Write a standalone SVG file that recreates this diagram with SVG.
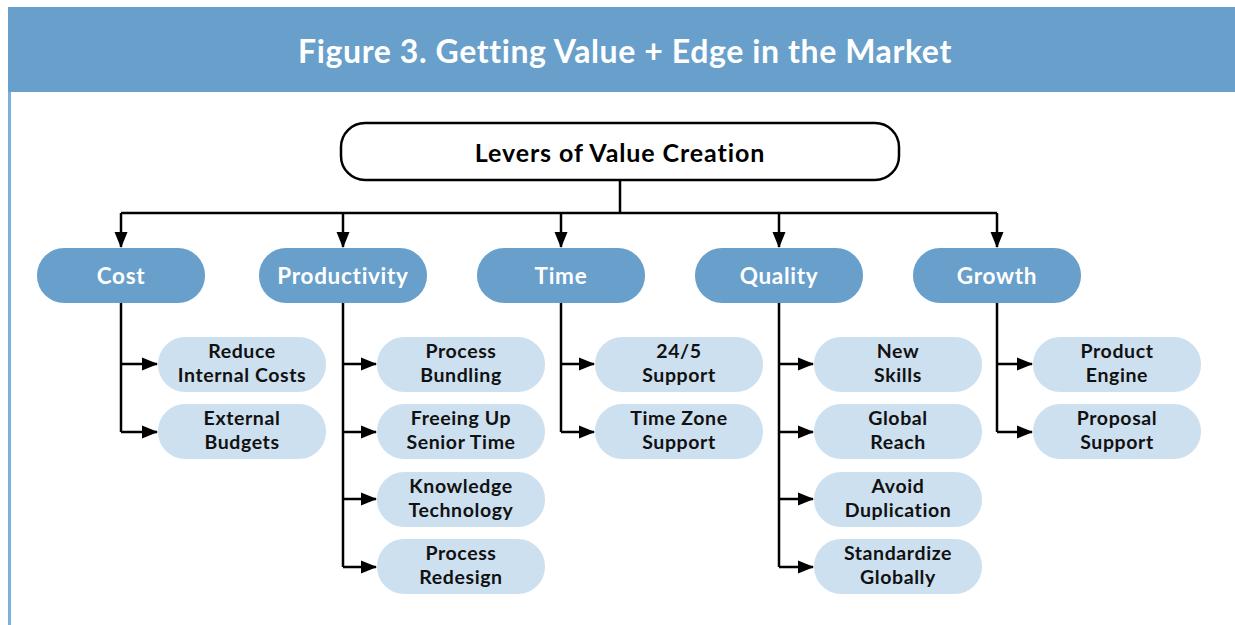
<svg xmlns="http://www.w3.org/2000/svg" width="1235" height="625" viewBox="0 0 1235 625">
<defs>
<style>
.hdr{fill:#68a0cb}
.title{font-family:Lato,"Liberation Sans",sans-serif;font-weight:bold;font-size:32px;letter-spacing:0.6px;fill:#ffffff;text-anchor:middle}
.root rect{fill:#ffffff;stroke:#000;stroke-width:2.5}
.root text{font-family:Lato,"Liberation Sans",sans-serif;font-weight:bold;font-size:25px;letter-spacing:0.9px;fill:#000;text-anchor:middle}
.l1 rect{fill:#68a0cb}
.l1 text{font-family:Lato,"Liberation Sans",sans-serif;font-weight:bold;font-size:22.5px;letter-spacing:0.7px;fill:#fff;text-anchor:middle}
.l2 rect{fill:#cde0f0}
.l2 text{font-family:Lato,"Liberation Sans",sans-serif;font-weight:bold;font-size:19.5px;letter-spacing:0.6px;fill:#111;text-anchor:middle}
.conn path{fill:none;stroke:#000;stroke-width:2.5}
</style>
<marker id="ah" markerUnits="userSpaceOnUse" markerWidth="16" markerHeight="16" viewBox="0 0 16 16" refX="15" refY="8" orient="auto">
<path d="M0,1.5 L16,8 L0,14.5 Z" fill="#000"/>
</marker>
</defs>
<rect width="1235" height="625" fill="#fff"/>
<rect class="hdr" x="8" y="7" width="1227" height="85"/>
<rect x="8" y="92" width="3" height="533" fill="#7db0dc"/>
<text class="title" x="625" y="63">Figure 3. Getting Value + Edge in the Market</text>

<g class="conn">
<path d="M620,180 V213 M121,213 H997"/>
<path d="M121,213 V247" marker-end="url(#ah)"/>
<path d="M343,213 V247" marker-end="url(#ah)"/>
<path d="M561,213 V247" marker-end="url(#ah)"/>
<path d="M779,213 V247" marker-end="url(#ah)"/>
<path d="M997,213 V247" marker-end="url(#ah)"/>
<path d="M121,303 V432"/>
<path d="M121,364 H157" marker-end="url(#ah)"/>
<path d="M121,432 H157" marker-end="url(#ah)"/>
<path d="M343,303 V567"/>
<path d="M343,364 H376" marker-end="url(#ah)"/>
<path d="M343,432 H376" marker-end="url(#ah)"/>
<path d="M343,499 H376" marker-end="url(#ah)"/>
<path d="M343,567 H376" marker-end="url(#ah)"/>
<path d="M561,303 V432"/>
<path d="M561,364 H594" marker-end="url(#ah)"/>
<path d="M561,432 H594" marker-end="url(#ah)"/>
<path d="M779,303 V567"/>
<path d="M779,364 H813" marker-end="url(#ah)"/>
<path d="M779,432 H813" marker-end="url(#ah)"/>
<path d="M779,499 H813" marker-end="url(#ah)"/>
<path d="M779,567 H813" marker-end="url(#ah)"/>
<path d="M997,303 V432"/>
<path d="M997,364 H1032" marker-end="url(#ah)"/>
<path d="M997,432 H1032" marker-end="url(#ah)"/>
</g>

<g id="root" class="root">
<rect x="341" y="123" width="558" height="57" rx="24"/>
<text x="620" y="162">Levers of Value Creation</text>
</g>

<g id="cost" class="l1"><rect x="37" y="248" width="168" height="55" rx="27"/><text x="121" y="284">Cost</text></g>
<g id="productivity" class="l1"><rect x="259" y="248" width="168" height="55" rx="27"/><text x="343" y="284">Productivity</text></g>
<g id="time" class="l1"><rect x="477" y="248" width="168" height="55" rx="27"/><text x="561" y="284">Time</text></g>
<g id="quality" class="l1"><rect x="695" y="248" width="168" height="55" rx="27"/><text x="779" y="284">Quality</text></g>
<g id="growth" class="l1"><rect x="913" y="248" width="168" height="55" rx="27"/><text x="997" y="284">Growth</text></g>

<g id="reduce-internal-costs" class="l2"><rect x="158" y="337" width="168" height="55" rx="27"/><text x="242" y="358">Reduce</text><text x="242" y="382">Internal Costs</text></g>
<g id="external-budgets" class="l2"><rect x="158" y="404" width="168" height="55" rx="27"/><text x="242" y="425">External</text><text x="242" y="449">Budgets</text></g>

<g id="process-bundling" class="l2"><rect x="377" y="337" width="168" height="55" rx="27"/><text x="461" y="358">Process</text><text x="461" y="382">Bundling</text></g>
<g id="freeing-up-senior-time" class="l2"><rect x="377" y="404" width="168" height="55" rx="27"/><text x="461" y="425">Freeing Up</text><text x="461" y="449">Senior Time</text></g>
<g id="knowledge-technology" class="l2"><rect x="377" y="472" width="168" height="55" rx="27"/><text x="461" y="493">Knowledge</text><text x="461" y="517">Technology</text></g>
<g id="process-redesign" class="l2"><rect x="377" y="539" width="168" height="55" rx="27"/><text x="461" y="560">Process</text><text x="461" y="584">Redesign</text></g>

<g id="support-24-5" class="l2"><rect x="595" y="337" width="168" height="55" rx="27"/><text x="679" y="358">24/5</text><text x="679" y="382">Support</text></g>
<g id="time-zone-support" class="l2"><rect x="595" y="404" width="168" height="55" rx="27"/><text x="679" y="425">Time Zone</text><text x="679" y="449">Support</text></g>

<g id="new-skills" class="l2"><rect x="814" y="337" width="168" height="55" rx="27"/><text x="898" y="358">New</text><text x="898" y="382">Skills</text></g>
<g id="global-reach" class="l2"><rect x="814" y="404" width="168" height="55" rx="27"/><text x="898" y="425">Global</text><text x="898" y="449">Reach</text></g>
<g id="avoid-duplication" class="l2"><rect x="814" y="472" width="168" height="55" rx="27"/><text x="898" y="493">Avoid</text><text x="898" y="517">Duplication</text></g>
<g id="standardize-globally" class="l2"><rect x="814" y="539" width="168" height="55" rx="27"/><text x="898" y="560">Standardize</text><text x="898" y="584">Globally</text></g>

<g id="product-engine" class="l2"><rect x="1033" y="337" width="168" height="55" rx="27"/><text x="1117" y="358">Product</text><text x="1117" y="382">Engine</text></g>
<g id="proposal-support" class="l2"><rect x="1033" y="404" width="168" height="55" rx="27"/><text x="1117" y="425">Proposal</text><text x="1117" y="449">Support</text></g>
</svg>
